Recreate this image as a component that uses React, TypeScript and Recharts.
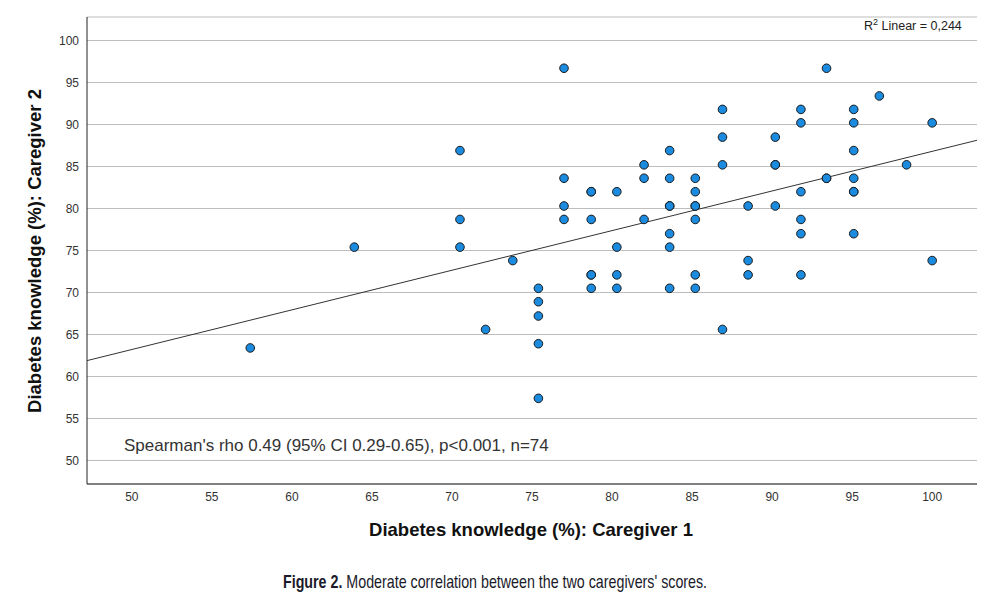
import React from "react";
import { ScatterChart, Scatter, XAxis, YAxis, CartesianGrid } from "recharts";

// Caregiver 1 / Caregiver 2 scores (%), one pair per family (n=74)
const caregiver1 = [
  77.0, 70.5, 82.0, 77.0, 82.0, 78.7, 78.7, 80.3, 77.0, 70.5, 77.0, 78.7, 82.0,
  63.9, 70.5, 80.3, 93.4, 96.7, 86.9, 91.8, 95.1, 91.8, 95.1, 100, 86.9, 90.2,
  83.6, 95.1, 86.9, 90.2, 90.2, 98.4, 83.6, 85.2, 93.4, 93.4, 95.1, 85.2, 91.8,
  95.1, 95.1, 83.6, 83.6, 85.2, 85.2, 88.5, 90.2, 85.2, 91.8, 83.6, 91.8, 95.1,
  83.6, 57.4, 73.8, 78.7, 78.7, 80.3, 75.4, 78.7, 80.3, 75.4, 75.4, 72.1, 75.4,
  75.4, 88.5, 100, 85.2, 88.5, 91.8, 83.6, 85.2, 86.9,
];
const caregiver2 = [
  96.7, 86.9, 85.2, 83.6, 83.6, 82.0, 82.0, 82.0, 80.3, 78.7, 78.7, 78.7, 78.7,
  75.4, 75.4, 75.4, 96.7, 93.4, 91.8, 91.8, 91.8, 90.2, 90.2, 90.2, 88.5, 88.5,
  86.9, 86.9, 85.2, 85.2, 85.2, 85.2, 83.6, 83.6, 83.6, 83.6, 83.6, 82.0, 82.0,
  82.0, 82.0, 80.3, 80.3, 80.3, 80.3, 80.3, 80.3, 78.7, 78.7, 77.0, 77.0, 77.0,
  75.4, 63.4, 73.8, 72.1, 72.1, 72.1, 70.5, 70.5, 70.5, 68.9, 67.2, 65.6, 63.9,
  57.4, 73.8, 73.8, 72.1, 72.1, 72.1, 70.5, 70.5, 65.6,
];
const ticks = [50, 55, 60, 65, 70, 75, 80, 85, 90, 95, 100];
const domain: [number, number] = [47.2, 102.8];

const points = caregiver1.map((x, i) => ({ x, y: caregiver2[i] }));

// linear (OLS) fit line across the axis range
const n = points.length;
const mx = points.reduce((s, p) => s + p.x, 0) / n;
const my = points.reduce((s, p) => s + p.y, 0) / n;
const sxy = points.reduce((s, p) => s + (p.x - mx) * (p.y - my), 0);
const sxx = points.reduce((s, p) => s + (p.x - mx) * (p.x - mx), 0);
const slope = sxy / sxx;
const fitLine = domain.map((x) => ({ x, y: my + slope * (x - mx) }));

const sans = "'Liberation Sans', Arial, sans-serif";
const tickStyle = { fontFamily: sans, fontSize: 12, fill: "#333" };

const Dot = (props: any) => (
  <circle cx={props.cx} cy={props.cy} r={4.3} fill="#1b8be0" stroke="#1a1a1a" strokeWidth={1} />
);

export default function App() {
  return (
    <div style={{ position: "absolute", left: 0, top: 0, width: 995, height: 596, background: "#fff" }}>
      <ScatterChart width={995} height={596} margin={{ top: 17, right: 18, bottom: 82, left: 0 }}>
        <CartesianGrid vertical={false} stroke="#bdbdbd" />
        <XAxis
          type="number"
          dataKey="x"
          domain={domain}
          ticks={ticks}
          height={30}
          tickSize={0}
          tickMargin={8}
          tick={tickStyle}
          stroke="#222"
          allowDataOverflow
        />
        <YAxis
          type="number"
          dataKey="y"
          domain={domain}
          ticks={ticks}
          width={87}
          tickSize={0}
          tickMargin={8}
          tick={tickStyle}
          stroke="#222"
          allowDataOverflow
        />
        <Scatter
          data={fitLine}
          line={{ stroke: "#333", strokeWidth: 1 }}
          shape={() => null}
          isAnimationActive={false}
        />
        <Scatter data={points} shape={<Dot />} isAnimationActive={false} />
      </ScatterChart>

      <div
        style={{
          position: "absolute",
          left: 864,
          top: 17,
          fontFamily: sans,
          fontSize: 12.5,
          color: "#222",
          whiteSpace: "nowrap",
        }}
      >
        R<sup style={{ fontSize: 9, verticalAlign: "5px" }}>2</sup> Linear = 0,244
      </div>
      <div
        style={{
          position: "absolute",
          left: 124,
          top: 436,
          fontFamily: sans,
          fontSize: 17,
          color: "#333",
          whiteSpace: "nowrap",
        }}
      >
        Spearman's rho 0.49 (95% CI 0.29-0.65), p&lt;0.001, n=74
      </div>
      <div
        style={{
          position: "absolute",
          left: 531,
          top: 519,
          transform: "translateX(-50%)",
          fontFamily: sans,
          fontSize: 18.5,
          fontWeight: "bold",
          color: "#111",
          whiteSpace: "nowrap",
        }}
      >
        Diabetes knowledge (%): Caregiver 1
      </div>
      <div
        style={{
          position: "absolute",
          left: 35,
          top: 251,
          transform: "translate(-50%, -50%) rotate(-90deg)",
          fontFamily: sans,
          fontSize: 18.5,
          fontWeight: "bold",
          color: "#111",
          whiteSpace: "nowrap",
        }}
      >
        Diabetes knowledge (%): Caregiver 2
      </div>
      <div
        style={{
          position: "absolute",
          left: 283,
          top: 571,
          transform: "scaleX(0.75)",
          transformOrigin: "left top",
          fontFamily: sans,
          fontSize: 19,
          color: "#1a1a2a",
          whiteSpace: "nowrap",
        }}
      >
        <b>Figure 2.</b> Moderate correlation between the two caregivers' scores.
      </div>
    </div>
  );
}
